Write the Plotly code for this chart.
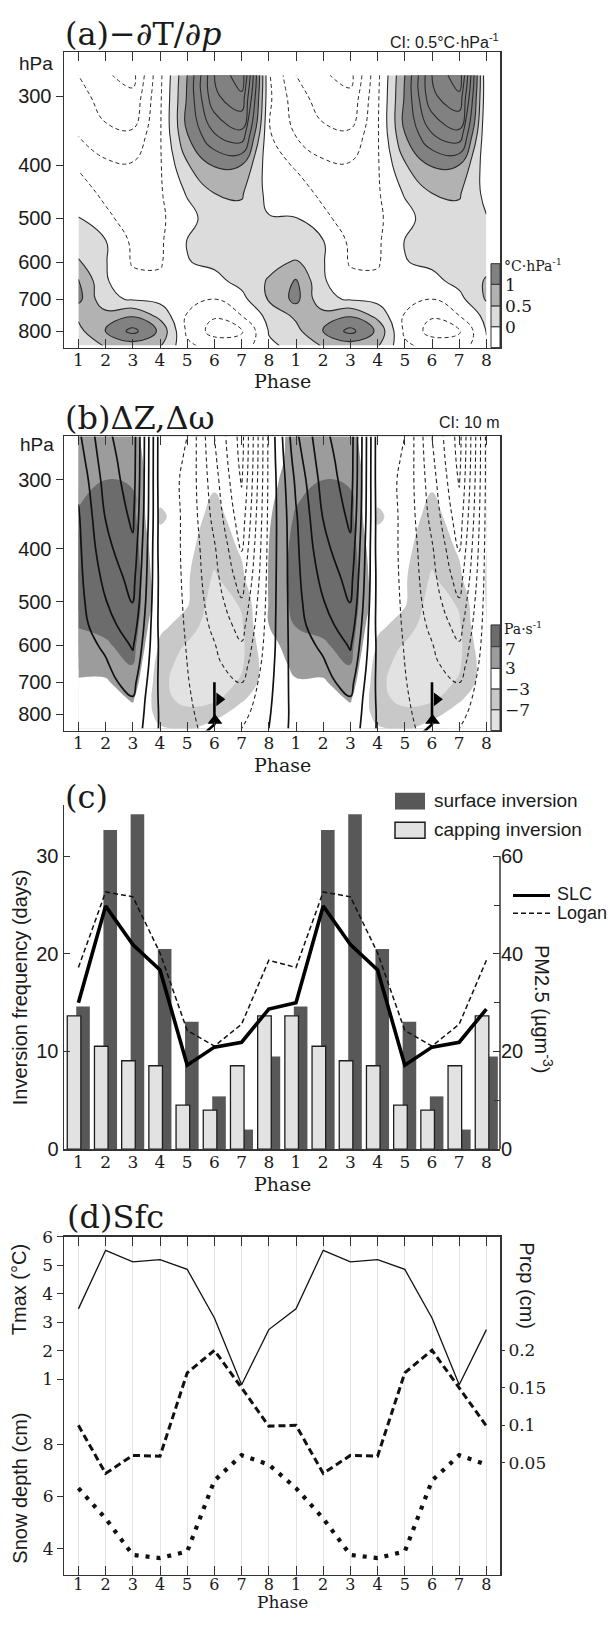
import math
import plotly.graph_objects as go

W, H = 613, 1625
def px(x): return x / W
def py(y): return 1 - y / H

# ---------------- data ----------------
PHASES = [1, 2, 3, 4, 5, 6, 7, 8]
TICK_POS = list(range(1, 17))
TICK_TEXT = [str(p) for p in PHASES] * 2
P_TICKS = [300, 400, 500, 600, 700, 800]

# (a) -dT/dp  rows = levels, columns = phase 1..8
A_LEVELS = [275, 300, 350, 400, 450, 500, 550, 600, 650, 700, 750, 800, 850]
A_DTDP = [
    [-1.50, -1.95, -2.15, -0.62,  1.00,  3.00,  3.85, -0.45],
    [-1.30, -1.75, -1.90, -0.58,  1.05,  2.90,  3.40, -0.40],
    [-1.05, -1.40, -1.45, -0.55,  1.00,  2.00,  2.40, -0.45],
    [-0.55, -0.90, -0.95, -0.55,  0.45,  1.05,  1.00, -0.30],
    [-0.30, -0.60, -0.80, -0.56,  0.05,  0.50,  0.55, -0.15],
    [ 0.02, -0.40, -0.70, -0.58, -0.20,  0.30,  0.35,  0.03],
    [ 0.25,  0.02, -0.60, -0.58,  0.02,  0.25,  0.30,  0.20],
    [ 0.55,  0.03, -0.55, -0.55, -0.02,  0.10,  0.25,  0.35],
    [ 1.05,  0.05, -0.35, -0.40, -0.15, -0.15,  0.15,  0.55],
    [ 1.15,  0.10, -0.05, -0.15, -0.30, -0.50, -0.15,  0.55],
    [ 0.60,  0.70,  0.95,  0.35, -0.55, -0.95, -0.50,  0.15],
    [ 0.35,  1.05,  1.65,  0.90, -0.60, -1.20, -1.05,  0.02],
    [ 0.08,  0.55,  0.75,  0.55, -0.40, -0.70, -0.80, -0.05],
]

# (b) omega (shaded) and dZ (contours)
B_LEVELS = [250, 275, 300, 350, 400, 450, 500, 550, 600, 650, 700, 750, 800, 850]
B_OMEGA = [
    [5.0,  5.5,  4.0,  0.0, -1.0,  -1.0, -0.5,  0.0],
    [5.0,  6.0,  5.0, -0.5, -1.0,  -1.5, -0.5,  0.5],
    [5.5,  7.0,  6.5, -1.5, -1.0,  -2.5, -1.0,  1.5],
    [7.5,  9.0,  8.5, -3.5, -1.5,  -4.0, -1.5,  2.5],
    [8.5, 10.0,  9.5, -1.5, -2.0,  -5.5, -2.5,  3.0],
    [9.0, 10.0, 10.0, -0.5, -2.5,  -7.5, -3.8,  3.2],
    [8.5,  9.5, 10.0,  0.0, -2.5,  -9.0, -6.5,  3.2],
    [7.2,  8.0,  9.5, -2.0, -4.5, -10.0, -7.5,  3.0],
    [6.0,  6.5,  8.5, -3.8, -7.5, -10.0, -8.0,  1.0],
    [4.5,  4.5,  7.2, -5.5, -8.5,  -9.5, -7.5, -0.5],
    [2.5,  2.5,  5.5, -6.0, -9.0,  -9.0, -6.5, -0.5],
    [1.0,  1.0,  3.5, -6.0, -8.0,  -8.0, -3.5, -0.5],
    [0.5,  0.5,  1.5, -4.5, -6.0,  -4.0, -1.5, -0.5],
    [0.0,  0.0,  0.5, -2.5, -3.5,  -1.5, -0.5,  0.0],
]
B_DZ = [
    [28.0, 48.0, 56.0, -5.0, -10.0, -40.0, -64.0, -8.0],
    [25.0, 46.0, 55.5, -5.0, -11.0, -38.0, -63.0, -8.0],
    [22.0, 44.0, 55.0, -5.0, -12.0, -36.0, -61.0, -8.0],
    [19.0, 40.5, 52.0, -4.0, -12.0, -33.0, -56.0, -7.5],
    [18.0, 37.0, 48.0, -4.0, -12.0, -29.0, -50.5, -7.0],
    [17.5, 33.0, 44.0, -3.0, -12.0, -27.0, -45.0, -6.5],
    [17.0, 29.5, 40.5, -3.0, -11.5, -25.0, -39.0, -6.0],
    [16.5, 26.0, 36.0, -3.0, -11.0, -22.5, -34.0, -5.5],
    [16.0, 21.5, 31.0, -2.0, -10.5, -19.5, -29.0, -5.0],
    [15.5, 19.0, 27.0, -2.0, -10.0, -18.0, -25.0, -4.0],
    [15.0, 17.5, 23.0, -2.0,  -9.5, -16.5, -20.5, -3.0],
    [14.5, 16.5, 19.5, -1.5,  -9.0, -15.0, -17.0, -2.0],
    [14.0, 15.5, 17.5, -1.0,  -8.5, -14.0, -13.5, -1.0],
    [14.0, 15.0, 16.0, -1.0,  -8.0, -13.0, -10.0,  0.0],
]
FRONT_PHASE = [6, 14]
FRONT_LINE_DX = [0.0, 0.0, -0.35]
FRONT_LINE_P = [700, 835, 866]
FRONT_TRI_UP = (0.02, 822)
FRONT_TRI_RIGHT = (0.18, 752)

# (c) inversion frequency (days) and PM2.5
C_SURFACE = [14.6, 32.7, 34.3, 20.5, 13.05, 5.4, 2.0, 9.5]
C_CAPPING = [13.66, 10.54, 9.05, 8.54, 4.5, 4.0, 8.54, 13.66]
C_SLC = [30.0, 49.8, 41.9, 36.7, 17.2, 20.9, 21.9, 28.7]
C_LOGAN = [37.2, 52.7, 51.7, 40.2, 24.3, 21.1, 25.6, 38.7]

# (d) surface
D_TMAX = [3.47, 5.53, 5.12, 5.20, 4.86, 3.15, 0.80, 2.74]
D_PRCP = [0.100, 0.036, 0.060, 0.059, 0.170, 0.200, 0.150, 0.099]
D_SNOW = [6.32, 5.16, 3.77, 3.65, 3.90, 6.61, 7.58, 7.22]

# ---------------- helpers ----------------
def tile_rows(grid):
    return [list(r) + list(r) for r in grid]

def two(v):
    return list(v) + list(v)

SERIF = "DejaVu Serif"
SANS = "Liberation Sans"
INK = "#1a1a1a"

XDOM = [px(64), px(500)]
XRANGE = [0.47, 16.5]
PRANGE = [math.log10(857), math.log10(250)]

fig = go.Figure()

# ---------- (a) ----------
A_W, A_L, A_M, A_D = "#ffffff", "#dcdcdc", "#b2b2b2", "#818181"
a_start, a_end, a_size = -3.0, 4.5, 0.5
def apos(v):
    return (v - (a_start - a_size / 2)) / ((a_end + a_size / 2) - (a_start - a_size / 2))
cs_a = [[0, A_W], [apos(0), A_W], [apos(0), A_L], [apos(0.5), A_L],
        [apos(0.5), A_M], [apos(1.0), A_M], [apos(1.0), A_D], [1, A_D]]
za = tile_rows(A_DTDP)
fig.add_trace(go.Contour(x=TICK_POS, y=A_LEVELS, z=za, xaxis="x", yaxis="y",
    autocontour=False, contours=dict(start=a_start, end=a_end, size=a_size,
    coloring="fill", showlines=False), colorscale=cs_a,
    zmin=a_start - a_size / 2, zmax=a_end + a_size / 2, zauto=False,
    line=dict(width=0, smoothing=1.3), showscale=False, hoverinfo="skip"))
fig.add_trace(go.Contour(x=TICK_POS, y=A_LEVELS, z=za, xaxis="x", yaxis="y",
    autocontour=False, contours=dict(start=0, end=4.5, size=0.5, coloring="none"),
    line=dict(color="#2a2a2a", width=1.1, smoothing=1.3), showscale=False, hoverinfo="skip"))
fig.add_trace(go.Contour(x=TICK_POS, y=A_LEVELS, z=za, xaxis="x", yaxis="y",
    autocontour=False, contours=dict(start=-3, end=-0.5, size=0.5, coloring="none"),
    line=dict(color="#2a2a2a", width=1.0, dash="4px,3px", smoothing=1.3),
    showscale=False, hoverinfo="skip"))

# ---------- (b) ----------
B_LL, B_L, B_W, B_M, B_D = "#e2e2e2", "#c8c8c8", "#ffffff", "#9c9c9c", "#6c6c6c"
b_start, b_end, b_size = -12.0, 12.0, 1.0
def bpos(v):
    return (v - (b_start - b_size / 2)) / ((b_end + b_size / 2) - (b_start - b_size / 2))
cs_b = [[0, B_LL], [bpos(-7), B_LL], [bpos(-7), B_L], [bpos(-3), B_L],
        [bpos(-3), B_W], [bpos(3), B_W], [bpos(3), B_M], [bpos(7), B_M],
        [bpos(7), B_D], [1, B_D]]
fig.add_trace(go.Contour(x=TICK_POS, y=B_LEVELS, z=tile_rows(B_OMEGA), xaxis="x2", yaxis="y2",
    autocontour=False, contours=dict(start=b_start, end=b_end, size=b_size,
    coloring="fill", showlines=False), colorscale=cs_b,
    zmin=b_start - b_size / 2, zmax=b_end + b_size / 2, zauto=False,
    line=dict(width=0, smoothing=1.3), showscale=False, hoverinfo="skip"))
zdz = tile_rows(B_DZ)
fig.add_trace(go.Contour(x=TICK_POS, y=B_LEVELS, z=zdz, xaxis="x2", yaxis="y2",
    autocontour=False, contours=dict(start=0, end=60, size=10, coloring="none"),
    line=dict(color="#111111", width=1.7, smoothing=1.3), showscale=False, hoverinfo="skip"))
fig.add_trace(go.Contour(x=TICK_POS, y=B_LEVELS, z=zdz, xaxis="x2", yaxis="y2",
    autocontour=False, contours=dict(start=-70, end=-10, size=10, coloring="none"),
    line=dict(color="#222222", width=1.1, dash="4px,3px", smoothing=1.3),
    showscale=False, hoverinfo="skip"))
for fx in FRONT_PHASE:
    fig.add_trace(go.Scatter(x=[fx + d for d in FRONT_LINE_DX], y=FRONT_LINE_P,
        xaxis="x2", yaxis="y2", mode="lines", line=dict(color="black", width=2.6),
        cliponaxis=False, showlegend=False, hoverinfo="skip"))
    fig.add_trace(go.Scatter(x=[fx + FRONT_TRI_UP[0]], y=[FRONT_TRI_UP[1]],
        xaxis="x2", yaxis="y2", mode="markers",
        marker=dict(symbol="triangle-up", size=13, color="black"),
        showlegend=False, hoverinfo="skip"))
    fig.add_trace(go.Scatter(x=[fx + FRONT_TRI_RIGHT[0]], y=[FRONT_TRI_RIGHT[1]],
        xaxis="x2", yaxis="y2", mode="markers",
        marker=dict(symbol="triangle-right", size=12, color="black"),
        showlegend=False, hoverinfo="skip"))

# ---------- (c) ----------
fig.add_trace(go.Bar(x=TICK_POS, y=two(C_SURFACE), xaxis="x3", yaxis="y3",
    offset=-0.08, width=0.5, marker=dict(color="#585858", line=dict(width=0)),
    showlegend=False, hoverinfo="skip"))
fig.add_trace(go.Bar(x=TICK_POS, y=two(C_CAPPING), xaxis="x3", yaxis="y3",
    offset=-0.41, width=0.5, marker=dict(color="#e2e2e2", line=dict(color="#1e1e1e", width=1.3)),
    showlegend=False, hoverinfo="skip"))
fig.add_trace(go.Scatter(x=TICK_POS, y=two(C_LOGAN), xaxis="x3", yaxis="y4", mode="lines",
    line=dict(color="#111111", width=1.5, dash="5px,3px"), showlegend=False, hoverinfo="skip"))
fig.add_trace(go.Scatter(x=TICK_POS, y=two(C_SLC), xaxis="x3", yaxis="y4", mode="lines",
    line=dict(color="#000000", width=3.6), showlegend=False, hoverinfo="skip"))

# ---------- (d) ----------
fig.add_trace(go.Scatter(x=TICK_POS, y=two(D_TMAX), xaxis="x4", yaxis="y5", mode="lines",
    line=dict(color="#111111", width=1.3), showlegend=False, hoverinfo="skip"))
fig.add_trace(go.Scatter(x=TICK_POS, y=two(D_PRCP), xaxis="x4", yaxis="y7", mode="lines",
    line=dict(color="#111111", width=3.0, dash="7px,4px"), showlegend=False, hoverinfo="skip"))
fig.add_trace(go.Scatter(x=TICK_POS, y=two(D_SNOW), xaxis="x4", yaxis="y6", mode="lines",
    line=dict(color="#111111", width=4.2, dash="4px,7px"), showlegend=False, hoverinfo="skip"))

# ---------------- axes ----------------
serif_tick = dict(family=SERIF, size=17, color=INK)
sans_tick = dict(family=SANS, size=20, color=INK)

def xax(dom_anchor, **kw):
    d = dict(domain=XDOM, range=XRANGE, anchor=dom_anchor, tickmode="array",
             tickvals=TICK_POS, ticktext=TICK_TEXT, tickfont=serif_tick,
             showgrid=False, zeroline=False, showline=True, linecolor="#333",
             linewidth=1.5, ticks="inside", ticklen=9, tickcolor="#333",
             mirror="ticks", fixedrange=True, ticklabelstandoff=-3)
    d.update(kw)
    return d

def pax(dom, anchor):
    return dict(domain=dom, type="log", range=PRANGE, anchor=anchor,
                tickmode="array", tickvals=P_TICKS, ticktext=[str(v) for v in P_TICKS],
                tickfont=sans_tick, ticks="outside", ticklen=7, tickcolor="#333",
                showline=True, linecolor="#333", linewidth=1.5, mirror=True,
                showgrid=False, zeroline=False, fixedrange=True)

C_TOP = 35.3
fig.update_layout(
    xaxis=xax("y"),
    yaxis=pax([py(342), py(43)], "x"),
    xaxis2=xax("y2"),
    yaxis2=pax([py(730), py(432)], "x2"),
    xaxis3=xax("y3", ticks="", mirror=False),
    yaxis3=dict(domain=[py(1154), py(805)], range=[0, C_TOP], anchor="x3",
                tickmode="array", tickvals=[0, 10, 20, 30], tickfont=sans_tick,
                ticks="inside", ticklen=6, tickcolor="#333", showline=True,
                linecolor="#333", linewidth=1.5, showgrid=False, zeroline=False,
                fixedrange=True),
    yaxis4=dict(overlaying="y3", side="right", anchor="x3", range=[0, 2 * C_TOP],
                tickmode="array", tickvals=[0, 20, 40, 60], tickfont=sans_tick,
                ticks="inside", ticklen=7, tickcolor="#333", showline=False,
                showgrid=False, zeroline=False, fixedrange=True,
                minor=dict(tickvals=[10, 30, 50], ticks="inside", ticklen=6, tickcolor="#333")),
    xaxis4=xax("y5", showgrid=True, gridcolor="#e3e3e3", gridwidth=1,
               tickfont=dict(family=SERIF, size=16, color=INK), ticklabelstandoff=-5),
    yaxis5=dict(domain=[py(1585), py(1243)], range=[-5.875, 6.0], anchor="x4",
                tickmode="array", tickvals=[1, 2, 3, 4, 5, 6], tickfont=serif_tick,
                ticks="outside", ticklen=6, tickcolor="#333", showline=True,
                linecolor="#333", linewidth=1.5, mirror=True, showgrid=False,
                zeroline=False, fixedrange=True),
    yaxis6=dict(overlaying="y5", side="left", anchor="x4", range=[3.02, 15.92],
                tickmode="array", tickvals=[4, 6, 8], tickfont=serif_tick,
                ticks="outside", ticklen=6, tickcolor="#333", showline=False,
                showgrid=False, zeroline=False, fixedrange=True),
    yaxis7=dict(overlaying="y5", side="right", anchor="x4", range=[-0.0987, 0.351],
                tickmode="array", tickvals=[0.05, 0.1, 0.15, 0.2],
                ticktext=["0.05", "0.1", "0.15", "0.2"], tickfont=serif_tick,
                ticks="outside", ticklen=4, tickcolor="#333", showline=False,
                showgrid=False, zeroline=False, fixedrange=True),
    barmode="overlay",
    width=W, height=H, margin=dict(l=0, r=0, t=0, b=0),
    paper_bgcolor="white", plot_bgcolor="white",
    font=dict(family=SANS, color=INK), showlegend=False, hovermode=False,
)

# ---------------- annotations & decorations ----------------
anns = []
def ann(text, x, y, size, family=SANS, xanchor="left", yanchor="middle", angle=0):
    anns.append(dict(text=text, x=px(x), y=py(y), xref="paper", yref="paper",
                     showarrow=False, xanchor=xanchor, yanchor=yanchor,
                     textangle=angle, font=dict(family=family, size=size, color=INK)))

# titles
ann("(a)\u2212\u2202T/\u2202<i>p</i>", 63, 24, 32, SERIF)
ann("CI: 0.5\u00b0C\u00b7hPa<sup>-1</sup>", 501, 31, 16, SANS, xanchor="right")
ann("hPa", 36, 54, 19, SANS, xanchor="center")
ann("Phase", 282, 376, 19, SERIF, xanchor="center")

ann("(b)\u0394Z,\u0394\u03c9", 63, 413, 32, SERIF)
ann("CI: 10 m", 501, 418, 16, SANS, xanchor="right")
ann("hPa", 37, 440, 19, SANS, xanchor="center")
ann("Phase", 282, 765, 19, SERIF, xanchor="center")

ann("(c)", 63, 797, 32, SERIF)
ann("Inversion frequency (days)", 20, 990, 20, SANS, xanchor="center", angle=-90)
ann("PM2.5 (\u00b5gm<sup>-3</sup>)", 543, 1012, 20, SANS, xanchor="center", angle=90)
ann("Phase", 282, 1189, 19, SERIF, xanchor="center")

ann("(d)Sfc", 65, 1223, 32, SERIF)
ann("Tmax (\u00b0C)", 19, 1297, 20, SANS, xanchor="center", angle=-90)
ann("Snow depth (cm)", 20, 1498, 20, SANS, xanchor="center", angle=-90)
ann("Prcp (cm)", 527, 1292, 20, SANS, xanchor="center", angle=90)
ann("Phase", 282, 1625, 17, SERIF, xanchor="center", yanchor="bottom")

shapes = []
def rect(x0, y0, x1, y1, fill, lw=1, lc="#333"):
    shapes.append(dict(type="rect", xref="paper", yref="paper", x0=px(x0), x1=px(x1),
                       y0=py(y1), y1=py(y0), fillcolor=fill,
                       line=dict(color=lc, width=lw), layer="above"))

# colour key (a)
for (y0, y1, c) in [(257, 278, A_D), (278, 300, A_M), (300, 321, A_L), (321, 342, A_W)]:
    rect(491, y0, 500, y1, c)
ann("\u00b0C\u00b7hPa<sup>-1</sup>", 502, 258, 14, SERIF)
ann("1", 503, 279, 17, SERIF)
ann("0.5", 503, 300, 17, SERIF)
ann("0", 503, 321, 17, SERIF)

# colour key (b)
for (y0, y1, c) in [(623, 645, B_D), (645, 667, B_M), (667, 688, B_W), (688, 709, B_L), (709, 730, B_LL)]:
    rect(491, y0, 500, y1, c)
ann("Pa\u00b7s<sup>-1</sup>", 502, 626, 14, SERIF)
ann("7", 503, 647, 17, SERIF)
ann("3", 503, 667, 17, SERIF)
ann("\u22123", 503, 688, 17, SERIF)
ann("\u22127", 503, 709, 17, SERIF)

# legend (c)
rect(395, 793, 425, 810, "#585858", lw=0, lc="#585858")
rect(395, 823, 425, 839, "#e2e2e2", lw=1.5, lc="#1e1e1e")
ann("surface inversion", 432, 801, 19, SANS)
ann("capping inversion", 432, 830, 19, SANS)
shapes.append(dict(type="line", xref="paper", yref="paper", x0=px(513), x1=px(550),
                   y0=py(897), y1=py(897), line=dict(color="black", width=3)))
shapes.append(dict(type="line", xref="paper", yref="paper", x0=px(513), x1=px(550),
                   y0=py(915), y1=py(915), line=dict(color="#111", width=1.5, dash="5px,3px")))
ann("SLC", 555, 896, 18, SANS)
ann("Logan", 555, 915, 18, SANS)

# right axis line of (c): spans 0..60 on the PM2.5 scale
shapes.append(dict(type="line", xref="x3 domain", x0=1, x1=1, yref="y4", y0=0, y1=60,
                   line=dict(color="#333", width=1.5)))

fig.update_layout(annotations=anns, shapes=shapes)
fig.write_html("out.html", config={"displayModeBar": False, "staticPlot": True},
               post_script="document.body.style.margin='0';document.body.style.padding='0';"
                           "document.body.style.overflow='hidden';")
